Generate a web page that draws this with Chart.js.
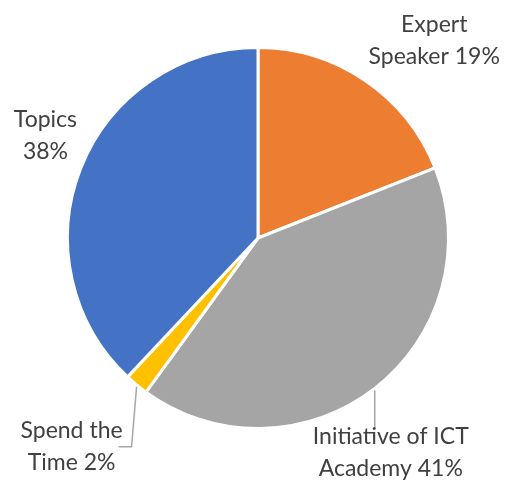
<!DOCTYPE html>
<html>
<head>
<meta charset="utf-8">
<script src="https://cdn.jsdelivr.net/npm/chart.js@4/dist/chart.umd.min.js"></script>
<style>
  html, body { margin: 0; padding: 0; background: #fff; }
  #wrap { width: 506px; height: 498px; }
</style>
</head>
<body>
<div id="wrap"><canvas id="pie-chart" width="506" height="498"></canvas></div>
<script>
// data
const categories = ['Expert Speaker', 'Initiative of ICT Academy', 'Spend the Time', 'Topics'];
const percents = [19, 41, 2, 38];
const labelLines = [['Expert', 'Speaker 19%'], ['Initiative of ICT', 'Academy 41%'], ['Spend the', 'Time 2%'], ['Topics', '38%']];
const colors = ['#ED7D31', '#A5A5A5', '#FFC000', '#4472C4'];

// label placement (style only): distance factor from center + nudges, optional leader line
const labelStyle = [
  { k: 1.3, dx: 37, dy: 7 },
  { leader: 'down', len: 40, dx: 16, dy: 64 },
  { leader: 'downLeft', len: 62, dx: -65, dy: 62 },
  { k: 1.2, dx: 0, dy: -18 },
];

const pieLabels = {
  id: 'pieLabels',
  afterDatasetsDraw(chart) {
    const ctx = chart.ctx;
    const meta = chart.getDatasetMeta(0);
    ctx.save();
    ctx.font = '23px Lato, "Open Sans", sans-serif';
    ctx.fillStyle = '#404040';
    ctx.textAlign = 'center';
    ctx.textBaseline = 'middle';
    meta.data.forEach((arc, i) => {
      const p = arc.getProps(['x', 'y', 'startAngle', 'endAngle', 'outerRadius']);
      const mid = (p.startAngle + p.endAngle) / 2;
      const s = labelStyle[i];
      let lx, ly;
      if (s.leader) {
        const ex = p.x + Math.cos(mid) * p.outerRadius;
        const ey = p.y + Math.sin(mid) * p.outerRadius;
        ctx.strokeStyle = '#A6A6A6';
        ctx.lineWidth = 1.5;
        ctx.beginPath();
        ctx.moveTo(ex, ey + 2);
        if (s.leader === 'down') {
          ctx.lineTo(ex, ey + s.len);
        } else {
          ctx.lineTo(ex - 5, ey + s.len);
          ctx.lineTo(ex - 18, ey + s.len);
        }
        ctx.stroke();
        lx = ex + s.dx;
        ly = ey + s.dy;
      } else {
        lx = p.x + Math.cos(mid) * p.outerRadius * s.k + s.dx;
        ly = p.y + Math.sin(mid) * p.outerRadius * s.k + s.dy;
      }
      const lines = labelLines[i];
      const lh = 32;
      lines.forEach((t, j) => {
        ctx.fillText(t, lx, ly + (j - (lines.length - 1) / 2) * lh);
      });
    });
    ctx.restore();
  }
};

new Chart(document.getElementById('pie-chart'), {
  type: 'pie',
  data: {
    labels: categories,
    datasets: [{
      data: percents,
      backgroundColor: colors,
      borderColor: '#ffffff',
      borderWidth: 3,
    }],
  },
  options: {
    responsive: false,
    animation: false,
    layout: { padding: { left: 66, right: 56, top: 46, bottom: 68 } },
    plugins: {
      legend: { display: false },
      tooltip: { enabled: false },
    },
  },
  plugins: [pieLabels],
});
</script>
</body>
</html>
